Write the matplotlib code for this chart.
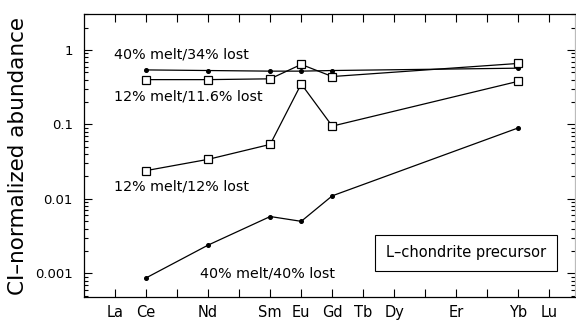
import matplotlib
matplotlib.use("Agg")
import matplotlib.pyplot as plt
from matplotlib.ticker import LogLocator, NullFormatter, FixedLocator

# REE atomic numbers used as x positions
tick_z = list(range(57, 72))
tick_labels = ["La", "Ce", "", "Nd", "", "Sm", "Eu", "Gd", "Tb", "Dy", "", "Er", "", "Yb", "Lu"]

# elements measured (Ce, Nd, Sm, Eu, Gd, Yb)
z = [58, 60, 62, 63, 64, 70]

melt40_lost34 = [0.54, 0.53, 0.52, 0.52, 0.53, 0.57]
melt12_lost116 = [0.40, 0.40, 0.41, 0.64, 0.44, 0.66]
melt12_lost12 = [0.024, 0.034, 0.054, 0.35, 0.095, 0.38]
melt40_lost40 = [0.00087, 0.0024, 0.0058, 0.0050, 0.011, 0.09]

fig = plt.figure(figsize=(5.76, 3.24), dpi=100)
ax = fig.add_axes([0.146, 0.083, 0.853, 0.874])

ax.plot(z, melt40_lost34, c='k', lw=0.9, marker='o', ms=2.6)
ax.plot(z, melt12_lost116, c='k', lw=0.9, marker='s', ms=6, mfc='white', mew=0.9)
ax.plot(z, melt12_lost12, c='k', lw=0.9, marker='s', ms=6, mfc='white', mew=0.9)
ax.plot(z, melt40_lost40, c='k', lw=0.9, marker='o', ms=2.6)

ax.set_yscale('log')
ax.set_xlim(56, 71.84)
ax.set_ylim(4.8e-4, 3.05)

ax.xaxis.set_major_locator(FixedLocator(tick_z))
ax.set_xticklabels(tick_labels, fontsize=10.5)
ax.yaxis.set_major_locator(FixedLocator([0.001, 0.01, 0.1, 1]))
ax.set_yticklabels(["0.001", "0.01", "0.1", "1"], fontsize=9.5)
ax.yaxis.set_minor_locator(LogLocator(base=10, subs=range(2, 10)))
ax.yaxis.set_minor_formatter(NullFormatter())

ax.tick_params(which='both', direction='in', top=True, right=True, width=0.8)
ax.tick_params(which='major', length=6)
ax.tick_params(which='minor', length=3)
ax.tick_params(axis='x', pad=6)
ax.tick_params(axis='y', pad=8)

for s in ax.spines.values():
    s.set_linewidth(0.9)
ax.spines['right'].set_color('#bbbbbb')

ax.set_ylabel("CI\u2013normalized abundance", fontsize=15.5, labelpad=5)

# series labels
ax.text(56.95, 0.88, "40% melt/34% lost", fontsize=10.3, va='center')
ax.text(56.95, 0.235, "12% melt/11.6% lost", fontsize=10.3, va='center')
ax.text(56.95, 0.0145, "12% melt/12% lost", fontsize=10.3, va='center')
ax.text(59.75, 0.00101, "40% melt/40% lost", fontsize=10.3, va='center')

ax.text(68.3, 0.00188, "L\u2013chondrite precursor", fontsize=10.5, ha='center', va='center',
        bbox=dict(boxstyle='square,pad=0.75', fc='white', ec='k', lw=0.8))

fig.savefig("out.png", dpi=100)
